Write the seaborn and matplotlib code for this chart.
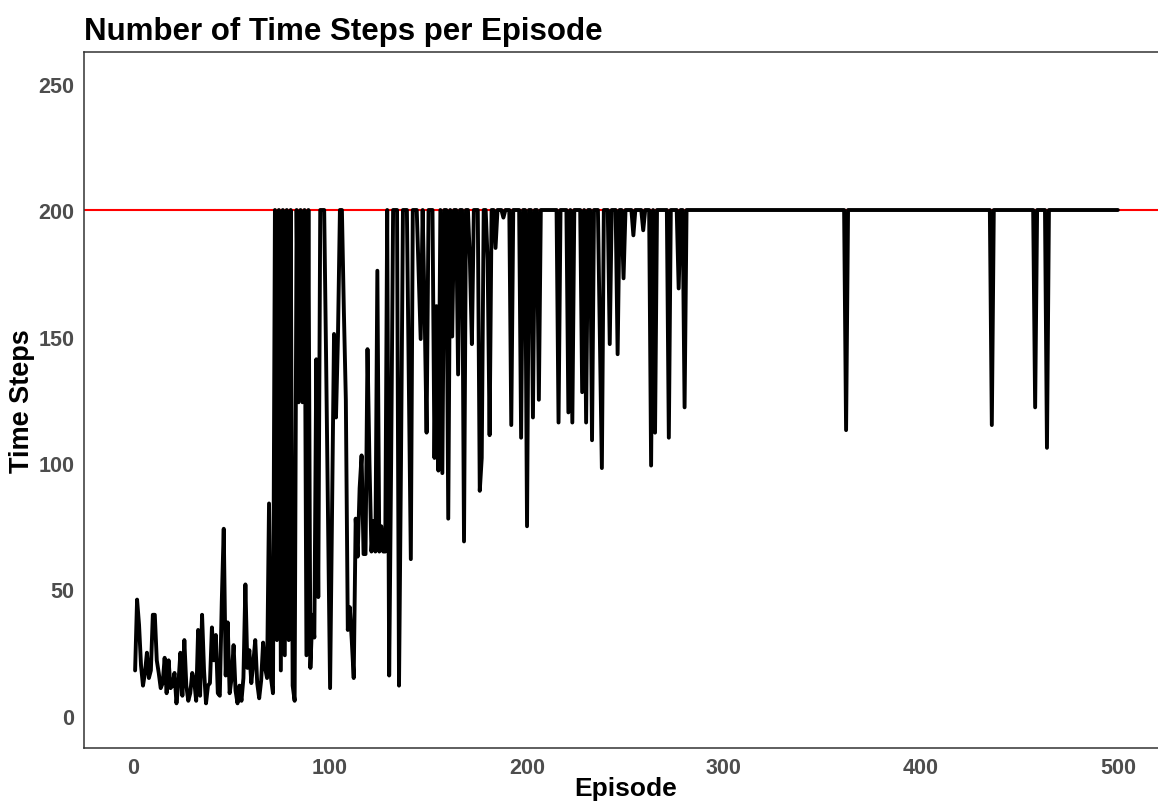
import matplotlib
matplotlib.use("Agg")
import matplotlib.pyplot as plt
import seaborn as sns

# Time steps per episode (episodes 1..500, 20 per row)
time_steps = [
    18, 46, 36, 20, 12, 17, 25, 15, 18, 40, 40, 22, 17, 11, 13, 23, 9, 22, 11, 12,
    17, 5, 13, 25, 8, 30, 12, 6, 9, 17, 14, 6, 34, 8, 40, 18, 5, 12, 13, 35,
    22, 32, 9, 8, 45, 74, 16, 37, 9, 15, 28, 10, 5, 12, 6, 15, 52, 19, 26, 13,
    21, 30, 13, 7, 14, 29, 19, 15, 84, 15, 9, 200, 30, 200, 18, 200, 24, 200, 30, 200,
    12, 6, 200, 124, 200, 124, 200, 24, 200, 19, 40, 31, 141, 47, 200, 200, 200, 140, 75, 11,
    80, 151, 118, 150, 200, 200, 160, 125, 34, 43, 30, 15, 78, 63, 90, 103, 64, 64, 145, 100,
    65, 77, 65, 176, 65, 75, 65, 65, 200, 16, 100, 200, 200, 200, 12, 100, 200, 200, 200, 130,
    62, 200, 200, 200, 175, 149, 200, 160, 112, 200, 200, 200, 102, 162, 97, 200, 96, 200, 200, 78,
    200, 150, 200, 200, 135, 200, 200, 69, 200, 200, 180, 147, 200, 200, 200, 89, 102, 200, 200, 180,
    111, 200, 200, 185, 200, 200, 200, 197, 200, 200, 200, 115, 200, 200, 200, 200, 110, 200, 200, 75,
    200, 200, 118, 200, 200, 125, 200, 200, 200, 200, 200, 200, 200, 200, 200, 116, 200, 200, 200, 200,
    120, 200, 116, 200, 200, 200, 200, 128, 200, 116, 200, 200, 109, 200, 200, 200, 150, 98, 200, 200,
    200, 147, 200, 200, 200, 143, 200, 200, 173, 200, 200, 200, 200, 190, 200, 200, 200, 200, 192, 200,
    200, 200, 99, 200, 112, 200, 200, 200, 200, 200, 200, 110, 200, 200, 200, 200, 169, 200, 200, 122,
    200, 200, 200, 200, 200, 200, 200, 200, 200, 200, 200, 200, 200, 200, 200, 200, 200, 200, 200, 200,
    200, 200, 200, 200, 200, 200, 200, 200, 200, 200, 200, 200, 200, 200, 200, 200, 200, 200, 200, 200,
    200, 200, 200, 200, 200, 200, 200, 200, 200, 200, 200, 200, 200, 200, 200, 200, 200, 200, 200, 200,
    200, 200, 200, 200, 200, 200, 200, 200, 200, 200, 200, 200, 200, 200, 200, 200, 200, 200, 200, 200,
    200, 113, 200, 200, 200, 200, 200, 200, 200, 200, 200, 200, 200, 200, 200, 200, 200, 200, 200, 200,
    200, 200, 200, 200, 200, 200, 200, 200, 200, 200, 200, 200, 200, 200, 200, 200, 200, 200, 200, 200,
    200, 200, 200, 200, 200, 200, 200, 200, 200, 200, 200, 200, 200, 200, 200, 200, 200, 200, 200, 200,
    200, 200, 200, 200, 200, 200, 200, 200, 200, 200, 200, 200, 200, 200, 200, 115, 200, 200, 200, 200,
    200, 200, 200, 200, 200, 200, 200, 200, 200, 200, 200, 200, 200, 200, 200, 200, 200, 122, 200, 200,
    200, 200, 200, 106, 200, 200, 200, 200, 200, 200, 200, 200, 200, 200, 200, 200, 200, 200, 200, 200,
    200, 200, 200, 200, 200, 200, 200, 200, 200, 200, 200, 200, 200, 200, 200, 200, 200, 200, 200, 200,
]
episodes = list(range(1, len(time_steps) + 1))
max_steps = 200

x_ticks = [0, 100, 200, 300, 400, 500]
y_ticks = [0, 50, 100, 150, 200, 250]

sns.set_style("white")
plt.rcParams['font.family'] = ['Liberation Sans', 'DejaVu Sans']

fig = plt.figure(figsize=(11.58, 8.04), dpi=100)
# panel runs slightly past the right edge, as in the reference crop
ax = fig.add_axes([84 / 1158, 1 - 748.6 / 804, (1167 - 84) / 1158, (748.6 - 52.9) / 804])

ax.axhline(max_steps, color='red', lw=1.5, zorder=1)
sns.lineplot(x=episodes, y=time_steps, color='black', lw=2.8, ax=ax, zorder=2)

ax.set_xlim(-24.95, 524.95)
ax.set_ylim(-12.5, 262.5)
ax.set_xticks(x_ticks)
ax.set_yticks(y_ticks)

for s in ax.spines.values():
    s.set_color('#333333')
    s.set_linewidth(1.1)

ax.tick_params(axis='both', length=4, width=1, color='#333333',
               labelcolor='#4D4D4D', labelsize=15.5, pad=3)
for lab in ax.get_xticklabels() + ax.get_yticklabels():
    lab.set_fontweight('bold')

ax.set_xlabel("Episode", fontsize=19, fontweight='bold', color='black', labelpad=-2)
ax.set_ylabel("Time Steps", fontsize=19.5, fontweight='bold', color='black', labelpad=2)
ax.set_title("Number of Time Steps per Episode", fontsize=22.5,
             fontweight='bold', color='black', loc='left', pad=9)

fig.savefig("out.png", dpi=100)
